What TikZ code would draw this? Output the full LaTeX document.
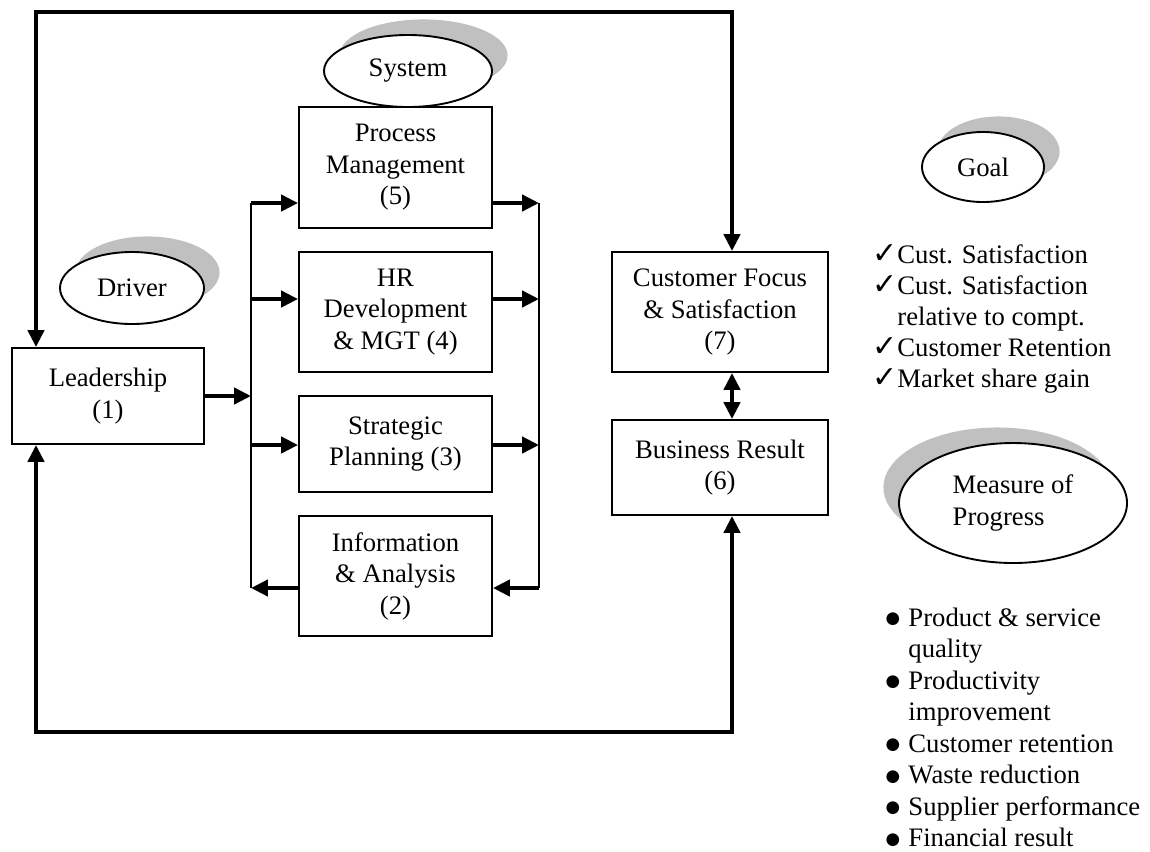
\documentclass[tikz,border=0pt]{standalone}
\usepackage{fontspec}
\setmainfont{Liberation Serif}
\newfontfamily\markfont{DejaVu Sans}
\usetikzlibrary{arrows.meta,shapes.geometric,shadows}
\definecolor{shadegray}{HTML}{C0C0C0}
\newcommand{\bigbullet}{\raisebox{1pt}{\markfont\fontsize{7.5pt}{7.5pt}\selectfont ●}}
\newcommand{\tickmark}{\smash{\markfont\fontsize{13.5pt}{13.5pt}\selectfont ✓}}
\begin{document}
\begin{tikzpicture}[x=0.45pt,y=-0.45pt,
  every node/.style={font=\fontsize{12pt}{14.2pt}\selectfont, inner sep=0pt},
  Head/.tip={Triangle[length=7.6pt,width=7.2pt]},
  blk/.style 2 args={draw, line width=0.85pt, rectangle, align=center,
    minimum width=#1*0.45pt, minimum height=#2*0.45pt},
  tag/.style 2 args={draw, line width=0.85pt, ellipse, fill=white,
    minimum width=#1*0.45pt, minimum height=#2*0.45pt},
  shade ur/.style={drop shadow={shadow xshift=7pt, shadow yshift=7pt,
    fill=shadegray, opacity=1}},
  shade ul/.style={drop shadow={shadow xshift=-7pt, shadow yshift=7pt,
    fill=shadegray, opacity=1}},
  flow/.style={line width=1.8pt, -Head},
  wire/.style={line width=0.85pt},
  tick/.style={anchor=base},
  dot/.style={anchor=base},
  item/.style={anchor=base west}]

% canvas
\fill[white] (0,0) rectangle (1150,851);
\useasboundingbox (0,0) rectangle (1150,851);

% driver
\node[tag={144}{72}, shade ur] (driver) at (132,288) {Driver};
\node[blk={192}{96}] (lead) at (108,396) {Leadership\\(1)};

% system
\node[tag={168}{72}, shade ur] (system) at (408,71) {System};
\node[blk={193}{121}] (pm) at (395.5,167.5) {Process\\Management\\(5)};
\node[blk={193}{120}] (hr) at (395.5,312) {HR\\Development\\\& MGT (4)};
\node[blk={193}{96}]  (sp) at (395.5,444) {Strategic\\Planning (3)};
\node[blk={193}{120}] (ia) at (395.5,576) {Information\\\& Analysis\\(2)};

% results
\node[blk={216}{120}] (cf) at (720,312) {Customer Focus\\\& Satisfaction\\(7)};
\node[blk={216}{95}]  (bres) at (720,467.5) {Business Result\\(6)};

% goal
\node[tag={122}{70}, shade ur] (goal) at (983,167) {Goal};
\node[tick] (g1m) at (885,263) {\tickmark};
\node[item] (g1) at (897,263) {Cust. Satisfaction};
\node[tick] (g2m) at (885,294) {\tickmark};
\node[item] (g2) at (897,294) {Cust. Satisfaction};
\node[item] (g2b) at (897,325) {relative to compt.};
\node[tick] (g3m) at (885,356) {\tickmark};
\node[item] (g3) at (897,356) {Customer Retention};
\node[tick] (g4m) at (885,387) {\tickmark};
\node[item] (g4) at (897,387) {Market share gain};

% measure of progress
\node[tag={228}{120}, shade ul, align=left] (measure) at (1013,503) {Measure of\\Progress};
\node[dot] (m1d) at (893,626) {\bigbullet};
\node[item] (m1) at (908,626) {Product \& service};
\node[item] (m1b) at (908,657.5) {quality};
\node[dot] (m2d) at (893,689) {\bigbullet};
\node[item] (m2) at (908,689) {Productivity};
\node[item] (m2b) at (908,720.5) {improvement};
\node[dot] (m3d) at (893,752) {\bigbullet};
\node[item] (m3) at (908,752) {Customer retention};
\node[dot] (m4d) at (893,783.5) {\bigbullet};
\node[item] (m4) at (908,783.5) {Waste reduction};
\node[dot] (m5d) at (893,815) {\bigbullet};
\node[item] (m5) at (908,815) {Supplier performance};
\node[dot] (m6d) at (893,846.5) {\bigbullet};
\node[item] (m6) at (908,846.5) {Financial result};

% loop corners, bus lines and arrow levels
\coordinate (nw) at (36,12);
\coordinate (ne) at (732,12);
\coordinate (sw) at (36,732);
\coordinate (se) at (732,732);
\coordinate (busL) at (251,0);
\coordinate (busR) at (539,0);
\coordinate (lv5) at (0,203);
\coordinate (lv4) at (0,299);
\coordinate (lv3) at (0,445);
\coordinate (lv2) at (0,588);

% outer feedback loop
\draw[line width=1.8pt, Head-Head] (lead.north -| nw) -- (nw) -- (ne) -- (cf.north -| ne);
\draw[line width=1.8pt, Head-Head] (lead.south -| sw) -- (sw) -- (se) -- (bres.south -| se);
\draw[line width=1.8pt, Head-Head] (cf.south -| ne) -- (bres.north -| ne);

% buses
\draw[wire] (busL |- lv5) -- (busL |- lv2);
\draw[wire] (busR |- lv5) -- (busR |- lv2);

% leadership into the system
\draw[flow] (lead.east) -- (lead.east -| busL);

% into the system boxes
\draw[flow] (busL |- lv5) -- (pm.west |- lv5);
\draw[flow] (busL |- lv4) -- (hr.west |- lv4);
\draw[flow] (busL |- lv3) -- (sp.west |- lv3);
\draw[flow] (ia.west |- lv2) -- (busL |- lv2);

% out of the system boxes
\draw[flow] (pm.east |- lv5) -- (busR |- lv5);
\draw[flow] (hr.east |- lv4) -- (busR |- lv4);
\draw[flow] (sp.east |- lv3) -- (busR |- lv3);
\draw[flow] (busR |- lv2) -- (ia.east |- lv2);

\end{tikzpicture}
\end{document}
